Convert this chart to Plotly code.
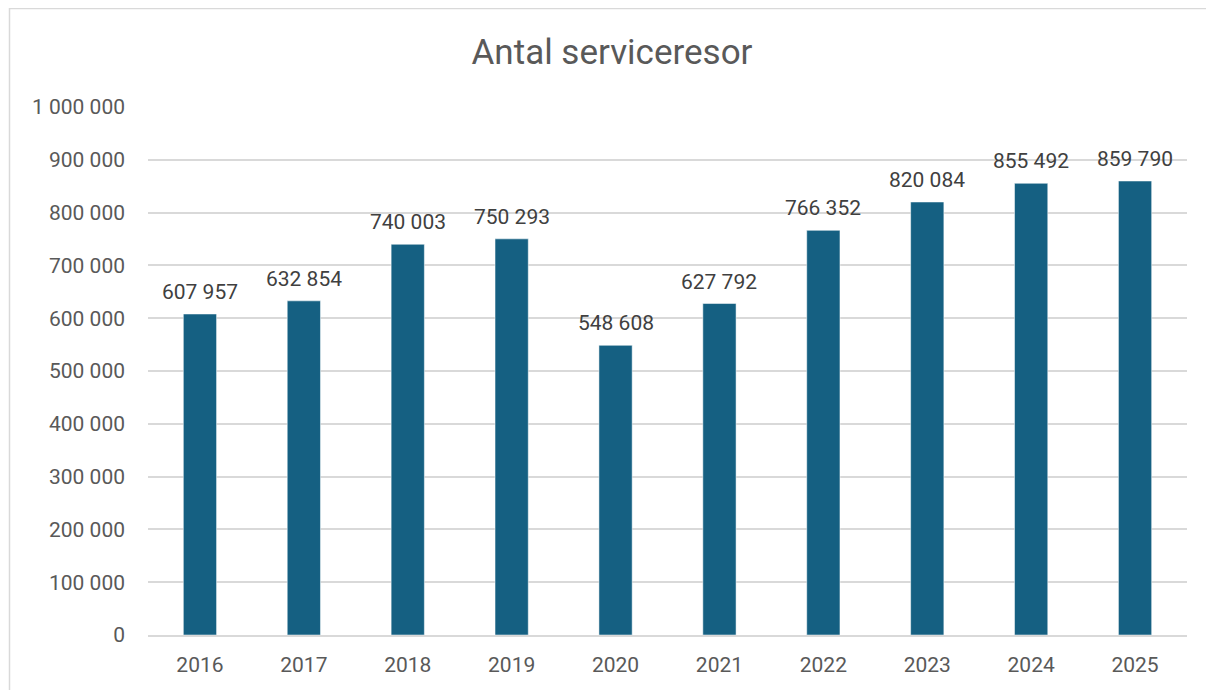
import plotly.graph_objects as go

years = ["2016", "2017", "2018", "2019", "2020", "2021", "2022", "2023", "2024", "2025"]
trips = [607957, 632854, 740003, 750293, 548608, 627792, 766352, 820084, 855492, 859790]
y_ticks = [0, 100000, 200000, 300000, 400000, 500000, 600000, 700000, 800000, 900000, 1000000]

# the page body adds an 8px margin, so the figure is 8px smaller than the window
W, H = 1206, 682
ML, MR, MT, MB = 140, 27, 99, 55
pw = W - ML - MR
ph = H - MT - MB

fig = go.Figure()
fig.add_trace(go.Bar(
    x=years, y=trips,
    marker=dict(color="#156082", line=dict(color="#ffffff", width=0.5)),
))

# data labels above the bars (x given as category index)
for i, v in enumerate(trips):
    fig.add_annotation(x=i, y=v, text=f"{v:,}".replace(",", " "), showarrow=False,
                       yanchor="bottom", yshift=8,
                       font=dict(size=21, color="#404040"))

fig.update_layout(
    width=W, height=H,
    margin=dict(l=ML, r=MR, t=MT, b=MB),
    paper_bgcolor="white", plot_bgcolor="white",
    font=dict(family="Roboto, Arial, sans-serif", color="#595959"),
    bargap=0.68,
    showlegend=False,
    title=dict(text="Antal serviceresor", x=(612 - 8) / W, xanchor="center",
               y=1 - (52 - 8) / H, yanchor="middle",
               font=dict(size=35, color="#595959")),
    xaxis=dict(type="category", range=[-0.5, len(years) - 0.5], showgrid=False,
               showline=True, linecolor="#d9d9d9", linewidth=1.5, ticks="",
               tickfont=dict(size=21), ticklabelstandoff=10),
    yaxis=dict(range=[0, 1000000], tickvals=y_ticks,
               ticktext=[f"{t:,}".replace(",", " ") for t in y_ticks], showgrid=True,
               gridcolor="#d9d9d9", gridwidth=1.5, zeroline=False, showline=False,
               tickfont=dict(size=21), ticklabelstandoff=22),
    # outer chart frame (only top and left edges fall inside the window)
    shapes=[dict(type="rect", xref="paper", yref="paper",
                 x0=(1.5 - ML) / pw, x1=(W + 5 - ML) / pw,
                 y0=-(MB + 5) / ph, y1=(H - 0.5 - MB) / ph,
                 line=dict(color="#d9d9d9", width=1.5), layer="below")],
)

fig.write_html("out.html")
